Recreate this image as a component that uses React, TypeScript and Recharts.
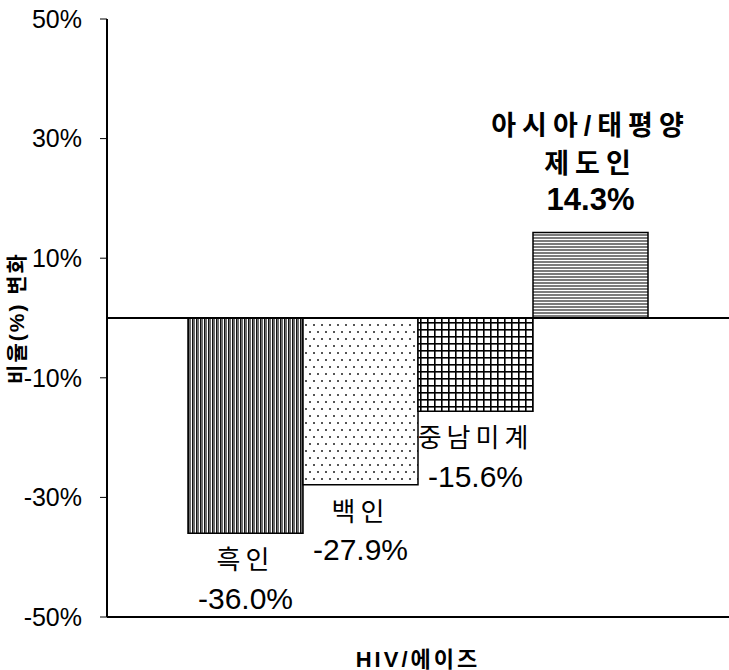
import React from 'react';
import { BarChart, Bar, XAxis, YAxis, ReferenceLine } from 'recharts';

const categories = ['HIV/에이즈'];
const seriesKeys = ['black', 'white', 'hispanic', 'asian'];
const seriesLabels = [['흑인'], ['백인'], ['중남미계'], ['아시아/태평양', '제도인']];
const seriesValues = [-36.0, -27.9, -15.6, 14.3];
const yTicks = [-50, -30, -10, 10, 30, 50];
const patternIds = ['patVert', 'patDots', 'patGrid', 'patHoriz'];

const FONT = "'Liberation Sans', Arial, 'Noto Sans CJK KR', sans-serif";

const data = categories.map((c) => {
  const row: Record<string, any> = { category: c };
  seriesKeys.forEach((k, i) => {
    row[k] = seriesValues[i];
  });
  return row;
});

const fmt = (v: number) => `${v.toFixed(1)}%`;

function makeLabel(i: number) {
  return (props: any) => {
    const { x, y, width, height, value } = props;
    const cx = Number(x) + Number(width) / 2;
    const top = Math.min(Number(y), Number(y) + Number(height));
    const bottom = Math.max(Number(y), Number(y) + Number(height));
    const names = seriesLabels[i];
    if (value < 0) {
      return (
        <g>
          <text x={cx} y={bottom + 27} textAnchor="middle" dominantBaseline="central"
            fontFamily={FONT} fontSize={26} letterSpacing={5} fill="#000">{names[0]}</text>
          <text x={cx} y={bottom + 65} textAnchor="middle" dominantBaseline="central"
            fontFamily={FONT} fontSize={30} fill="#000">{fmt(value)}</text>
        </g>
      );
    }
    return (
      <g>
        <text x={cx} y={top - 106} textAnchor="middle" dominantBaseline="central"
          fontFamily={FONT} fontSize={27} fontWeight="bold" letterSpacing={6} fill="#000">{names[0]}</text>
        <text x={cx} y={top - 68} textAnchor="middle" dominantBaseline="central"
          fontFamily={FONT} fontSize={27} fontWeight="bold" letterSpacing={6} fill="#000">{names[1]}</text>
        <text x={cx} y={top - 33} textAnchor="middle" dominantBaseline="central"
          fontFamily={FONT} fontSize={31} fontWeight="bold" fill="#000">{fmt(value)}</text>
      </g>
    );
  };
}

const YLabel = (props: any) => {
  const vb = props.viewBox || {};
  const cx = (vb.x || 0) + 16;
  const cy = (vb.y || 0) + (vb.height || 0) / 2;
  return (
    <text x={cx} y={cy} transform={`rotate(-90, ${cx}, ${cy})`} textAnchor="middle"
      dominantBaseline="central" fontFamily={FONT} fontSize={21} fontWeight="bold"
      letterSpacing={2} fill="#000">비율(%) 변화</text>
  );
};

const XLabel = (props: any) => {
  const vb = props.viewBox || {};
  const cx = (vb.x || 0) + (vb.width || 0) / 2;
  const cy = (vb.y || 0) + 42;
  return (
    <text x={cx} y={cy} textAnchor="middle" dominantBaseline="central" fontFamily={FONT}
      fontSize={22} fontWeight="bold" letterSpacing={3} fill="#000">{categories[0]}</text>
  );
};

export default function App() {
  return (
    <div style={{ position: 'absolute', left: 0, top: 0, background: '#fff' }}>
      <BarChart width={729} height={670} data={data}
        margin={{ top: 19, right: 0, bottom: 0, left: 0 }} barGap={0}>
        <defs>
          <pattern id="patVert" width={4} height={4} patternUnits="userSpaceOnUse">
            <rect width={4} height={4} fill="#ffffff" />
            <rect x={0} width={1} height={4} fill="#111111" />
            <rect x={1} width={2} height={4} fill="#6e6e6e" />
          </pattern>
          <pattern id="patDots" width={8} height={14} patternUnits="userSpaceOnUse">
            <rect width={8} height={14} fill="#ffffff" />
            <rect x={1} y={2} width={2} height={2} fill="#555555" />
            <rect x={5} y={9} width={2} height={2} fill="#555555" />
          </pattern>
          <pattern id="patGrid" width={7} height={7} patternUnits="userSpaceOnUse">
            <rect width={7} height={7} fill="#ffffff" />
            <rect x={0} y={0} width={7} height={1.6} fill="#000000" />
            <rect x={0} y={0} width={1.6} height={7} fill="#000000" />
          </pattern>
          <pattern id="patHoriz" width={4} height={3} patternUnits="userSpaceOnUse">
            <rect width={4} height={3} fill="#ffffff" />
            <rect y={0} width={4} height={2} fill="#7c7c7c" />
          </pattern>
        </defs>
        <XAxis dataKey="category" height={53} tick={false} tickLine={false}
          axisLine={{ stroke: '#000', strokeWidth: 2 }} label={<XLabel />} />
        <YAxis domain={[-50, 50]} ticks={yTicks} width={107} interval={0}
          tickFormatter={(v: number) => `${v}%`} tickSize={7} tickMargin={18}
          axisLine={{ stroke: '#000', strokeWidth: 2 }} tickLine={{ stroke: '#000', strokeWidth: 1 }}
          tick={{ fontFamily: FONT, fontSize: 25, fill: '#000' }} label={<YLabel />} />
        {seriesKeys.map((k, i) => (
          <Bar key={k} dataKey={k} barSize={115} fill={`url(#${patternIds[i]})`}
            stroke="#000" strokeWidth={1.5} isAnimationActive={false} label={makeLabel(i)} />
        ))}
        <ReferenceLine y={0} stroke="#000" strokeWidth={2} />
      </BarChart>
    </div>
  );
}
